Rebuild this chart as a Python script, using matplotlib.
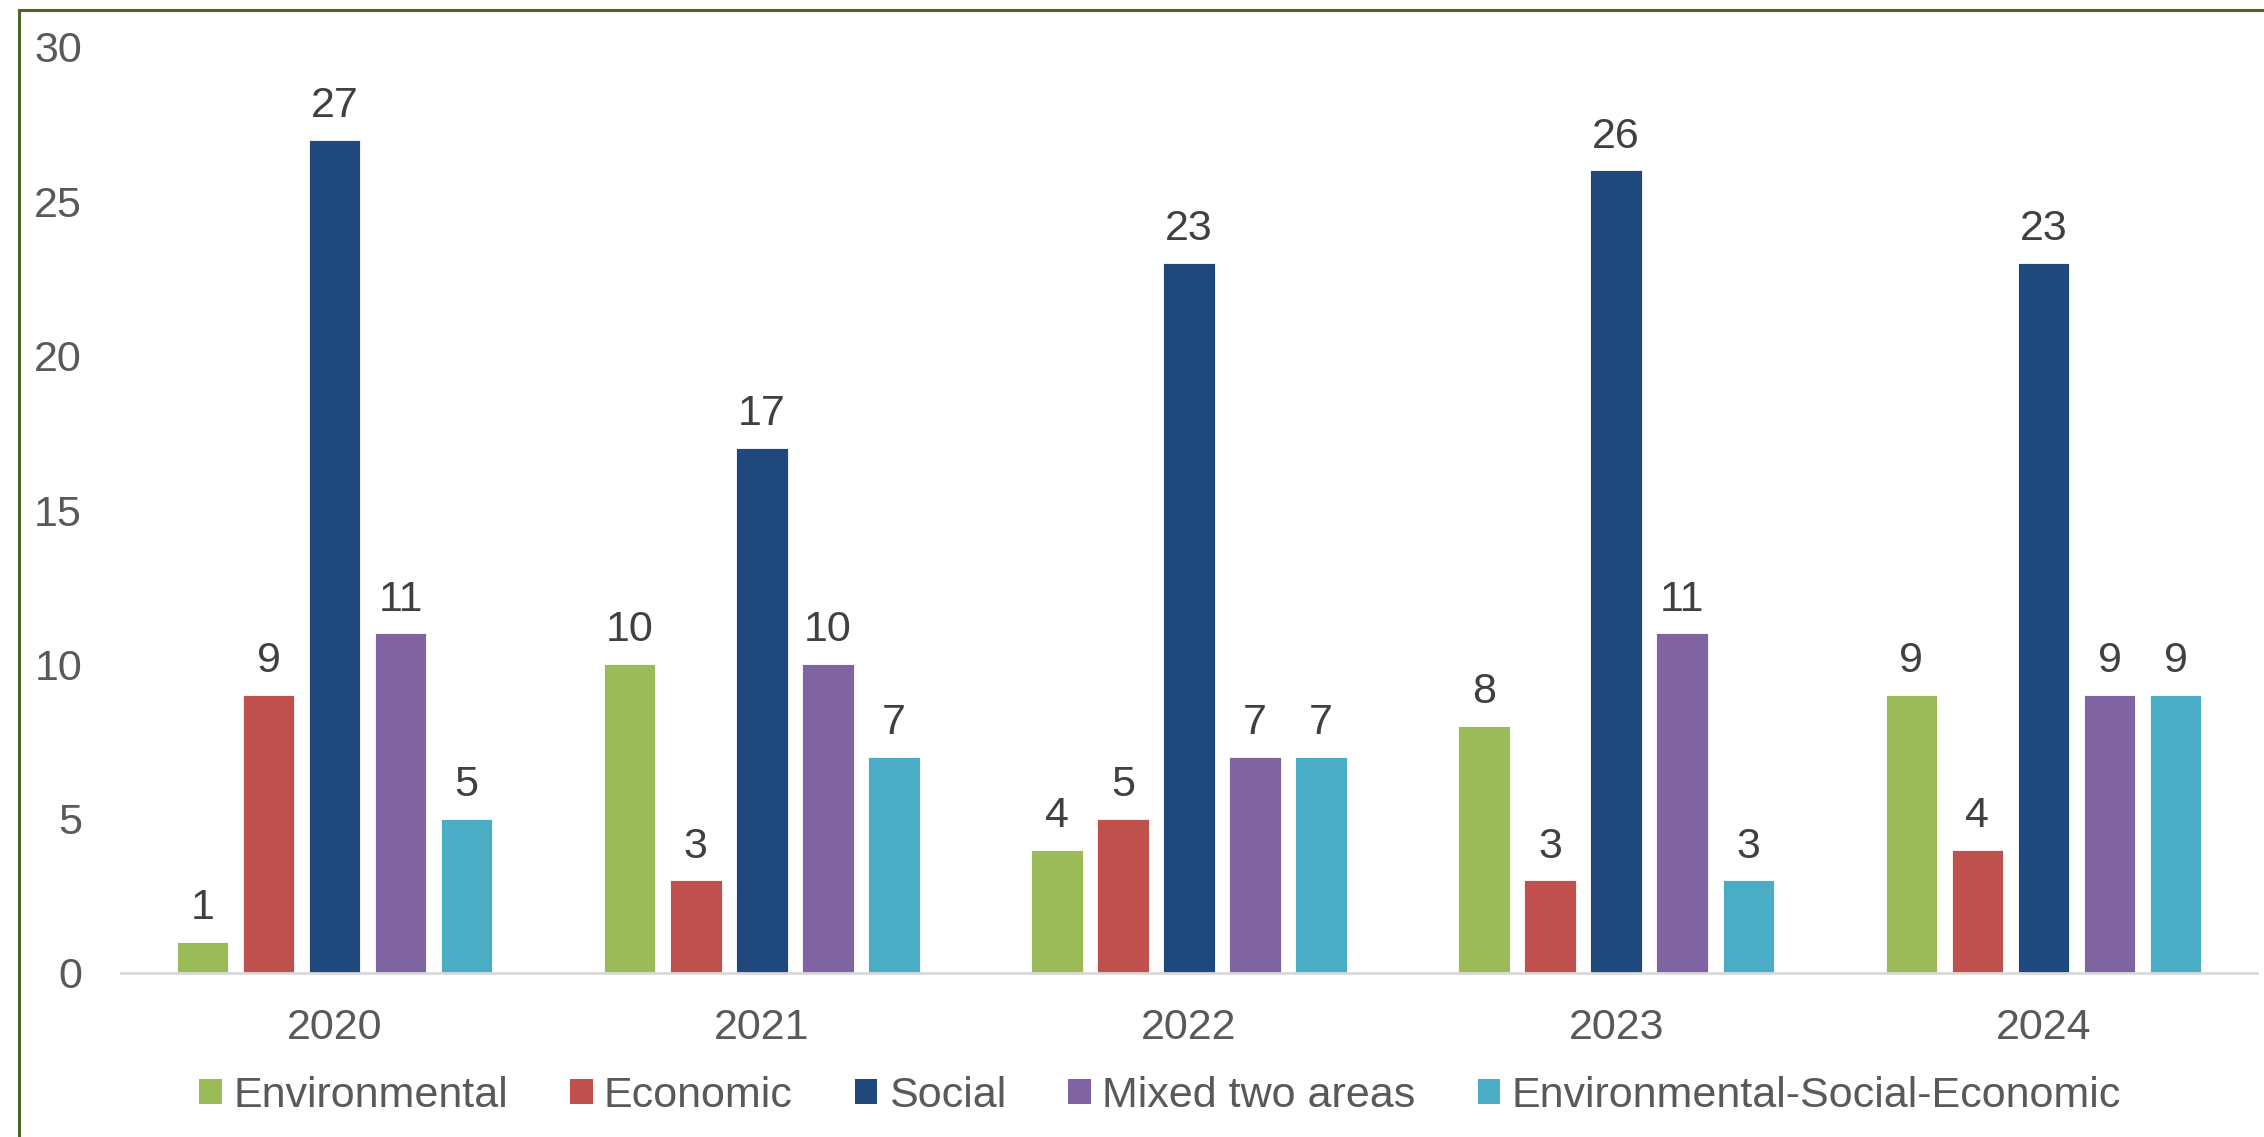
import numpy as np
import matplotlib
matplotlib.use("Agg")
from matplotlib import pyplot as plt
from matplotlib.patches import Rectangle, Patch

plt.rcParams['font.family'] = ['Liberation Sans', 'DejaVu Sans']

# data
years = ['2020', '2021', '2022', '2023', '2024']
series = ['Environmental', 'Economic', 'Social', 'Mixed two areas',
          'Environmental-Social-Economic']
environmental = [1, 10, 4, 8, 9]
economic = [9, 3, 5, 3, 4]
social = [27, 17, 23, 26, 23]
mixed_two = [11, 10, 7, 11, 9]
env_soc_eco = [5, 7, 7, 3, 9]
yticks = [0, 5, 10, 15, 20, 25, 30]

colors = ['#9BBB59', '#C0504D', '#1F497D', '#8064A2', '#4BACC6']
values = [environmental, economic, social, mixed_two, env_soc_eco]
fs = 31

W, H = 2264, 1137
fig = plt.figure(figsize=(W / 100, H / 100), dpi=100)
ax = fig.add_axes([121 / W, 1 - 973 / H, (2257 - 121) / W, (973 - 47) / H])

x = np.arange(len(years))
step = 0.1546
width = 0.1206
for i, (name, vals, c) in enumerate(zip(series, values, colors)):
    pos = x + (i - 2) * step
    bars = ax.bar(pos, vals, width, color=c, label=name,
                  edgecolor='white', linewidth=0.6)
    ax.bar_label(bars, labels=[str(v) for v in vals], padding=10,
                 fontsize=fs, color='#404040')

ax.set_xlim(-0.5, len(years) - 0.5)
ax.set_ylim(0, 30)
ax.set_yticks(yticks)
ax.set_yticklabels([str(t) for t in yticks])
ax.set_xticks(x)
ax.set_xticklabels(years)
ax.tick_params(axis='y', length=0, pad=28, labelsize=fs, labelcolor='#595959')
ax.tick_params(axis='x', length=0, pad=25, labelsize=fs, labelcolor='#595959')

for s in ['top', 'right', 'left']:
    ax.spines[s].set_visible(False)
ax.spines['bottom'].set_color('#D9D9D9')
ax.spines['bottom'].set_linewidth(2)

# legend along the bottom
handles = [Patch(facecolor=c, edgecolor='none') for c in colors]
fig.legend(handles, series, loc='center', bbox_to_anchor=(1160 / W, 1 - 1096 / H),
           ncol=5, frameon=False, fontsize=fs, labelcolor='#595959',
           handlelength=0.52, handleheight=0.52, handletextpad=0.26,
           columnspacing=1.45, borderpad=0, borderaxespad=0)

# olive frame that runs off the right and bottom edges
fig.patches.append(Rectangle((19 / W, -0.05), 1.1, 1 - 10 / H + 0.05,
                             transform=fig.transFigure, fill=False,
                             edgecolor='#4F6228', linewidth=2.2))

fig.savefig('out.png', dpi=100)
